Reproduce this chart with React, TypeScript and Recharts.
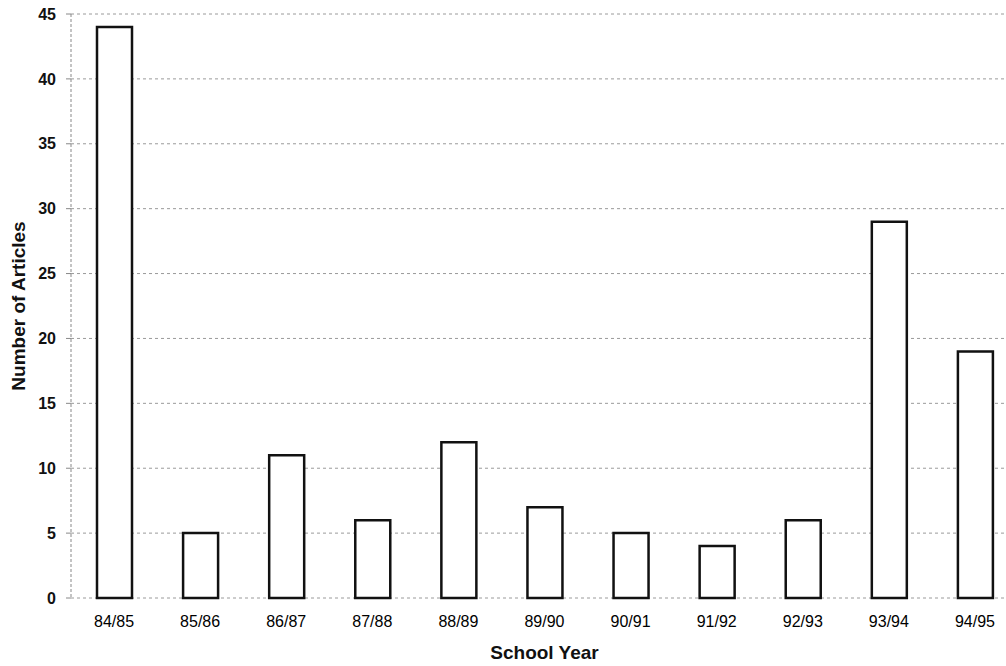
import React from 'react';
import { BarChart, Bar, XAxis, YAxis, CartesianGrid, Label } from 'recharts';

const years = ['84/85', '85/86', '86/87', '87/88', '88/89', '89/90', '90/91', '91/92', '92/93', '93/94', '94/95'];
const articles = [44, 5, 11, 6, 12, 7, 5, 4, 6, 29, 19];
const yTicks = [0, 5, 10, 15, 20, 25, 30, 35, 40, 45];

const data = years.map((year, i) => ({ year, articles: articles[i] }));

const font = '"Liberation Sans", Arial, sans-serif';

const App: React.FC = () => {
  return (
    <div style={{ position: 'absolute', left: 0, top: 0, width: 1006, height: 666, overflow: 'hidden', background: '#fff' }}>
      <BarChart
        width={1018}
        height={666}
        data={data}
        margin={{ top: 14, right: 0, left: 0, bottom: 0 }}
        barSize={35}
      >
        <CartesianGrid vertical={false} stroke="#9a9a9a" strokeDasharray="3 3" />
        <XAxis
          dataKey="year"
          height={68}
          axisLine={false}
          tickLine={false}
          tickSize={6}
          tickMargin={12}
          tick={{ fontSize: 16, fill: '#000', fontFamily: font }}
          interval={0}
        >
          <Label
            value="School Year"
            position="insideBottom"
            offset={7}
            style={{ fontSize: 19, fontWeight: 'bold', fill: '#111', fontFamily: font }}
          />
        </XAxis>
        <YAxis
          width={71}
          domain={[0, 45]}
          ticks={yTicks}
          interval={0}
          axisLine={{ stroke: '#888', strokeDasharray: '3 2' }}
          tickLine={{ stroke: '#888' }}
          tickSize={5}
          tickMargin={10}
          tick={{ fontSize: 16, fontWeight: 'bold', fill: '#111', fontFamily: font }}
        >
          <Label
            value="Number of Articles"
            angle={-90}
            position="insideLeft"
            offset={18}
            style={{ textAnchor: 'middle', fontSize: 19, fontWeight: 'bold', fill: '#111', fontFamily: font }}
          />
        </YAxis>
        <Bar dataKey="articles" fill="#fff" stroke="#111" strokeWidth={2.5} isAnimationActive={false} />
      </BarChart>
    </div>
  );
};

export default App;
